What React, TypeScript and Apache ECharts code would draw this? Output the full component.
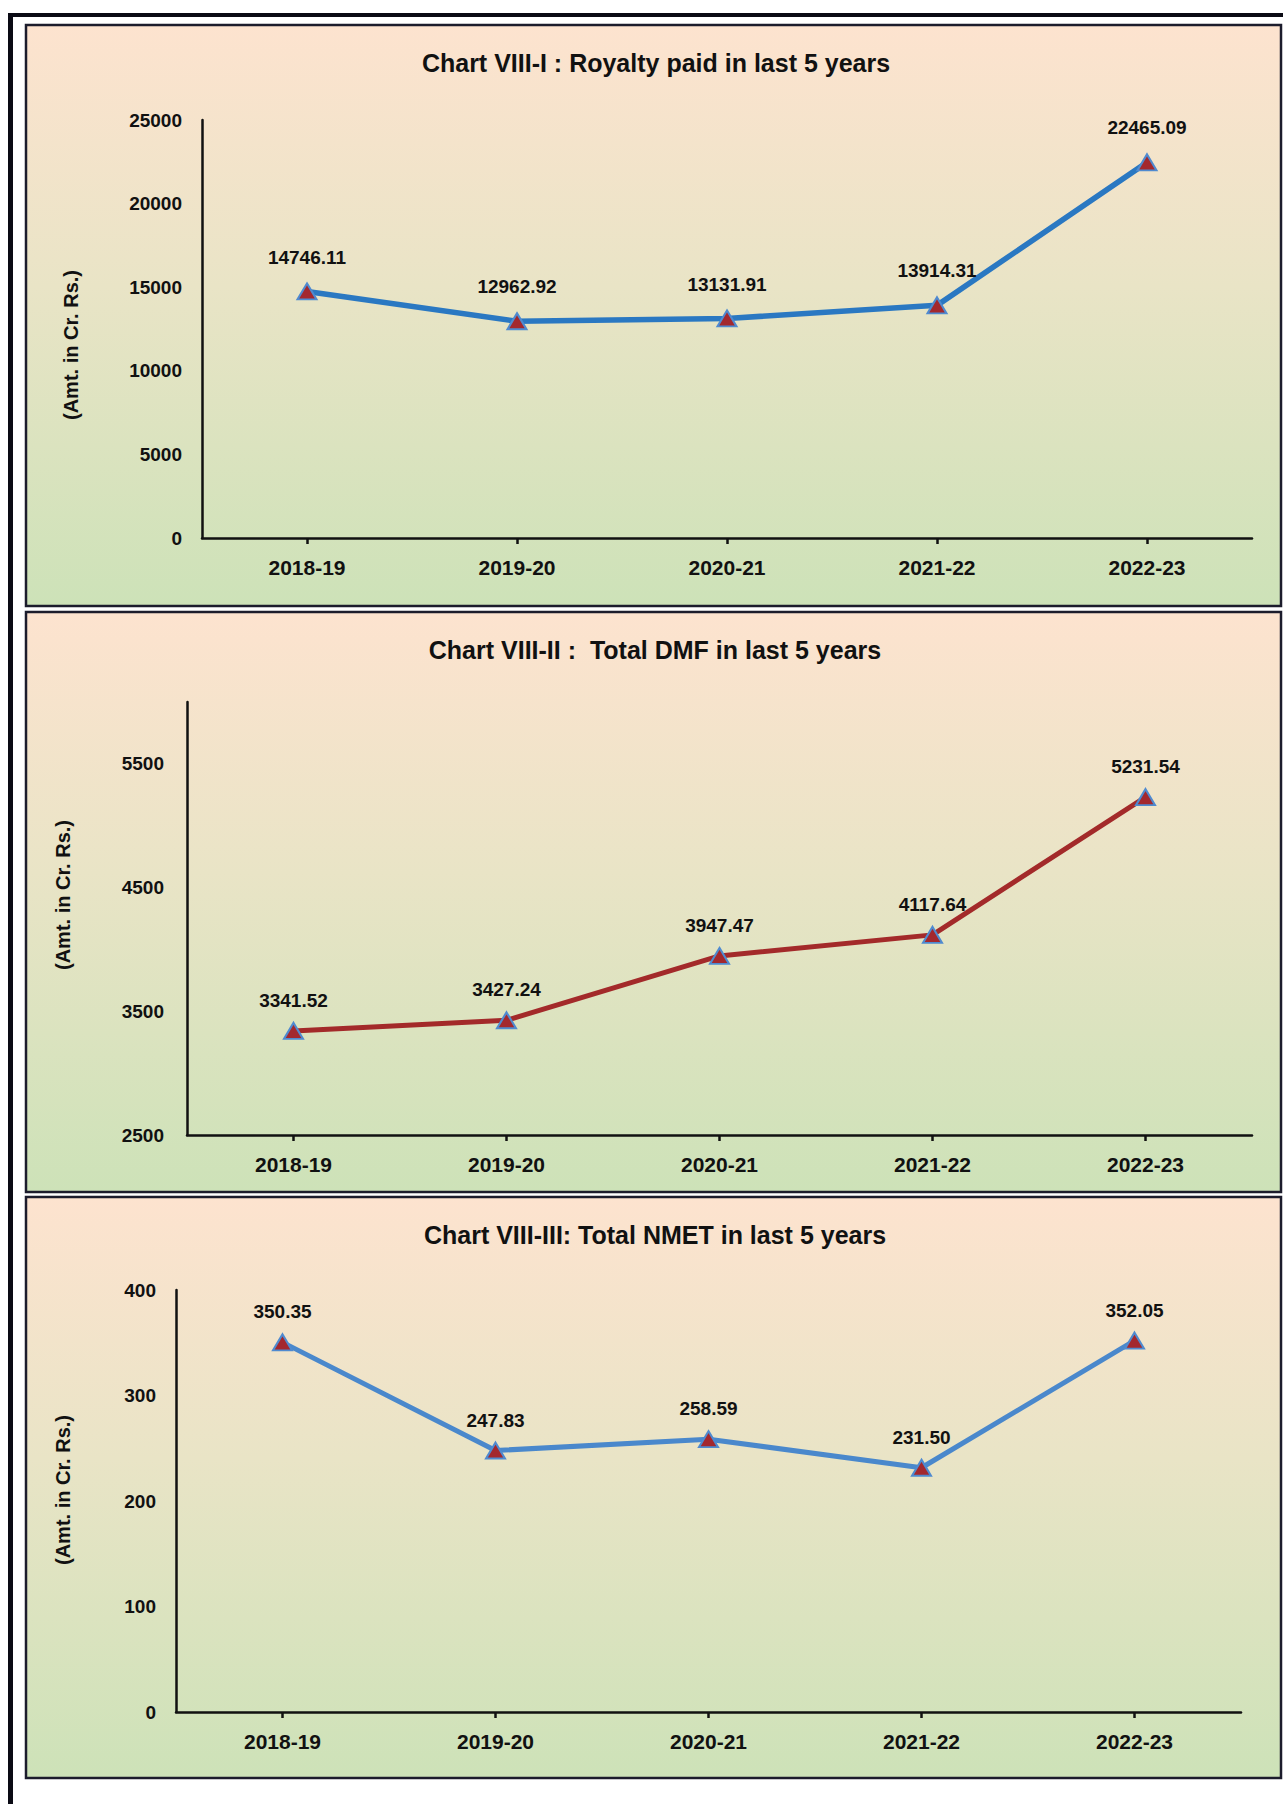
import React, { useEffect, useRef } from "react";
import * as echarts from "echarts";

const categories = ["2018-19", "2019-20", "2020-21", "2021-22", "2022-23"];
const royalty = [14746.11, 12962.92, 13131.91, 13914.31, 22465.09];
const dmf = [3341.52, 3427.24, 3947.47, 4117.64, 5231.54];
const nmet = [350.35, 247.83, 258.59, 231.5, 352.05];

const titles = [
  "Chart VIII-I : Royalty paid in last 5 years",
  "Chart VIII-II :  Total DMF in last 5 years",
  "Chart VIII-III: Total NMET in last 5 years",
];
const yName = "(Amt. in Cr. Rs.)";

const FONT = "'Liberation Sans', Arial, Helvetica, sans-serif";

export default function App() {
  const ref = useRef<HTMLDivElement>(null);
  useEffect(() => {
    if (!ref.current) return;
    const chart = echarts.init(ref.current, null, { renderer: "svg" });

    const bg = () => ({
      type: "linear",
      x: 0,
      y: 0,
      x2: 0,
      y2: 1,
      colorStops: [
        { offset: 0, color: "#fde3cf" },
        { offset: 0.45, color: "#e9e4c6" },
        { offset: 1, color: "#cde2b8" },
      ],
    });

    const panels = [
      { y: 25, h: 581 },
      { y: 612, h: 580 },
      { y: 1197, h: 581 },
    ];

    const graphic: any[] = [
      { type: "rect", z: -100, shape: { x: 8, y: 13, width: 5, height: 1791 }, style: { fill: "#0a0a14" } },
      { type: "rect", z: -100, shape: { x: 8, y: 13, width: 1275, height: 4 }, style: { fill: "#0a0a14" } },
      ...panels.map((p) => ({
        type: "rect",
        z: -99,
        shape: { x: 26, y: p.y, width: 1255, height: p.h },
        style: { fill: bg(), stroke: "#1c1c2c", lineWidth: 2.5 },
      })),
    ];

    const titlePos = [
      { x: 656, y: 63 },
      { x: 655, y: 650 },
      { x: 655, y: 1235 },
    ];
    titlePos.forEach((t, i) => {
      graphic.push({
        type: "text",
        x: t.x,
        y: t.y,
        z: 10,
        style: {
          text: titles[i],
          font: `bold 25px ${FONT}`,
          fill: "#111",
          align: "center",
          verticalAlign: "middle",
        },
      });
    });
    const namePos = [
      { x: 71, y: 345 },
      { x: 63, y: 895 },
      { x: 63, y: 1490 },
    ];
    namePos.forEach((t) => {
      graphic.push({
        type: "text",
        x: t.x,
        y: t.y,
        rotation: Math.PI / 2,
        z: 10,
        style: {
          text: yName,
          font: `bold 20px ${FONT}`,
          fill: "#111",
          align: "center",
          verticalAlign: "middle",
        },
      });
    });

    const grids = [
      { left: 202, top: 120, width: 1050, height: 418 },
      { left: 187, top: 702, width: 1065, height: 433 },
      { left: 176, top: 1290, width: 1065, height: 422 },
    ];

    const axisLine = { show: true, lineStyle: { color: "#111", width: 2.5 } };
    const labelStyle = { color: "#111", fontFamily: FONT, fontWeight: "bold" as const };

    const xAxis = grids.map((_, i) => ({
      type: "category",
      gridIndex: i,
      data: categories,
      boundaryGap: true,
      axisLine,
      axisTick: { show: true, alignWithLabel: true, length: 6, lineStyle: { color: "#111", width: 2.5 } },
      axisLabel: { ...labelStyle, fontSize: 21, margin: 19 },
      splitLine: { show: false },
    }));

    const plain = (v: number) => String(v);

    const yAxis = [
      {
        type: "value",
        gridIndex: 0,
        min: 0,
        max: 25000,
        interval: 5000,
        axisLine,
        axisTick: { show: false },
        splitLine: { show: false },
        axisLabel: { ...labelStyle, fontSize: 19, margin: 20, formatter: plain },
      },
      {
        type: "value",
        gridIndex: 1,
        min: 2500,
        max: 6000,
        interval: 500,
        axisLine,
        axisTick: { show: false },
        splitLine: { show: false },
        axisLabel: {
          ...labelStyle,
          fontSize: 19,
          margin: 23,
          formatter: (v: number) => ((v - 2500) % 1000 === 0 && v < 6000 ? String(v) : ""),
        },
      },
      {
        type: "value",
        gridIndex: 2,
        min: 0,
        max: 400,
        interval: 100,
        axisLine,
        axisTick: { show: false },
        splitLine: { show: false },
        axisLabel: { ...labelStyle, fontSize: 19, margin: 20, formatter: plain },
      },
    ];

    const lineColors = ["#2a78c2", "#a32a2a", "#4a88cc"];
    const lineWidths = [5.5, 5, 5];
    const labelDistances = [16, 12, 12];
    const datasets = [royalty, dmf, nmet];

    const series = datasets.map((d, i) => ({
      type: "line",
      xAxisIndex: i,
      yAxisIndex: i,
      data: d,
      z: 5,
      lineStyle: { color: lineColors[i], width: lineWidths[i] },
      symbol: "triangle",
      symbolSize: [19, 16],
      itemStyle: { color: "#a3282e", borderColor: "#4f8ad0", borderWidth: 2 },
      label: {
        show: true,
        position: "top",
        distance: labelDistances[i],
        ...labelStyle,
        fontSize: 19,
        formatter: (p: any) => Number(p.value).toFixed(2),
      },
    }));

    chart.setOption({
      animation: false,
      backgroundColor: "#ffffff",
      grid: grids.map((g) => ({ ...g, containLabel: false })),
      xAxis,
      yAxis,
      series,
      graphic,
    });

    return () => chart.dispose();
  }, []);

  return (
    <div
      ref={ref}
      style={{ position: "absolute", left: 0, top: 0, width: 1283, height: 1804 }}
    />
  );
}
